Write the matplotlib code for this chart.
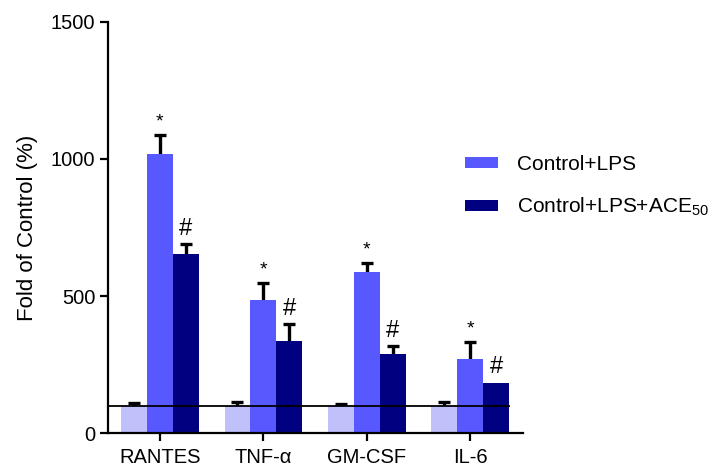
import numpy as np
import matplotlib.pyplot as plt
plt.rcParams["font.family"] = "sans-serif"
plt.rcParams["font.sans-serif"] = ["Liberation Sans", "Arial", "DejaVu Sans"]
plt.rcParams["mathtext.fontset"] = "custom"
plt.rcParams["mathtext.rm"] = "Liberation Sans"

categories = ["RANTES", "TNF-α", "GM-CSF", "IL-6"]
control = [100, 100, 100, 100]
control_err = [9, 13, 6, 13]
lps = [1020, 485, 588, 270]
lps_err = [68, 62, 32, 62]
ace = [653, 336, 288, 184]
ace_err = [37, 62, 30, np.nan]

c_ctrl = "#c0c0fa"
c_lps = "#5858ff"
c_ace = "#000080"

fig = plt.figure(figsize=(7.14, 4.76), dpi=100, facecolor="white")
ax = fig.add_axes([0.151, 0.0903, 0.5815, 0.8635])

x = np.arange(len(categories))
w = 0.25
ekw = dict(elinewidth=2.4, capthick=2.4, ecolor="black")

# error bars sit behind the bars so only the upper half shows
for xs, vals, errs in [(x - w, control, control_err), (x, lps, lps_err), (x + w, ace, ace_err)]:
    ax.errorbar(xs, vals, yerr=errs, fmt="none", capsize=4.5, zorder=1, **ekw)

ax.bar(x - w, control, w, color=c_ctrl, zorder=2)
ax.bar(x, lps, w, color=c_lps, label="Control+LPS", zorder=2)
ax.bar(x + w, ace, w, color=c_ace, label=r"Control+LPS+ACE$_{\mathregular{50}}$", zorder=2)

# significance marks
for i in range(len(categories)):
    top_ace = ace[i] + (0 if np.isnan(ace_err[i]) else ace_err[i])
    ax.annotate("*", (x[i], lps[i] + lps_err[i]), xytext=(0, 3), textcoords="offset points",
                ha="center", va="bottom", fontsize=14)
    ax.annotate("#", (x[i] + w, top_ace), xytext=(0, 3), textcoords="offset points",
                ha="center", va="bottom", fontsize=17)

# control baseline
ax.plot([-0.5, 3.375], [100, 100], color="black", lw=1.3, zorder=4)

ax.set_xlim(-0.503, 3.51)
ax.set_ylim(0, 1500)
ax.set_yticks([0, 500, 1000, 1500])
ax.set_xticks(x)
ax.set_xticklabels(categories)
ax.spines["top"].set_visible(False)
ax.spines["right"].set_visible(False)
for s in ["left", "bottom"]:
    ax.spines[s].set_linewidth(1.6)
ax.tick_params(axis="both", width=1.6, length=6, labelsize=14.5, pad=3)
ax.tick_params(axis="x", pad=5)
ax.set_ylabel("Fold of Control (%)", fontsize=16, labelpad=9)

fig.legend(*ax.get_legend_handles_labels(), loc="upper left",
           bbox_to_anchor=(465 / 714, 1 - 155 / 476), frameon=False, fontsize=15,
           handlelength=1.6, handleheight=0.45, handletextpad=0.9, labelspacing=1.05,
           borderpad=0, borderaxespad=0)

fig.savefig("out.png", dpi=100, facecolor="white")
